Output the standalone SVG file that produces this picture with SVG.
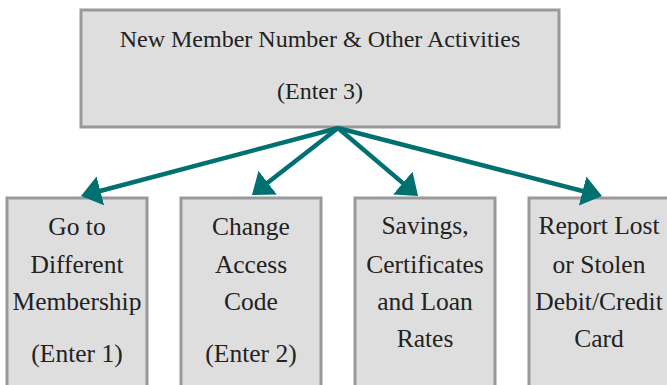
<svg xmlns="http://www.w3.org/2000/svg" width="667" height="385" viewBox="0 0 667 385">
<defs>
<style>
.box{fill:#dedede;stroke:#999;stroke-width:3}
.t{font-family:"Liberation Serif","DejaVu Serif",serif;fill:#222;text-anchor:middle}
.top{font-size:24px}
.sub{font-size:25.5px}
.conn{stroke:#007070;stroke-width:4.5;fill:none}
</style>
<marker id="ah" viewBox="0 0 20 30" refX="16" refY="15" markerWidth="20" markerHeight="30" markerUnits="userSpaceOnUse" orient="auto">
<path d="M0,0 L20,15 L0,30 z" fill="#007070"/>
</marker>
</defs>
<rect width="667" height="385" fill="#fff"/>
<g id="top-node">
<rect class="box" x="81" y="10" width="478" height="117"/>
<text class="t top" x="320" y="47">New Member Number &amp; Other Activities</text>
<text class="t top" x="320" y="99">(Enter 3)</text>
</g>
<g id="node1">
<rect class="box" x="7" y="198" width="140" height="200"/>
<text class="t sub" x="77" y="235">Go to</text>
<text class="t sub" x="77" y="273">Different</text>
<text class="t sub" x="77" y="310">Membership</text>
<text class="t sub" x="77" y="362">(Enter 1)</text>
</g>
<g id="node2">
<rect class="box" x="181" y="198" width="140" height="200"/>
<text class="t sub" x="251" y="235">Change</text>
<text class="t sub" x="251" y="273">Access</text>
<text class="t sub" x="251" y="310">Code</text>
<text class="t sub" x="251" y="362">(Enter 2)</text>
</g>
<g id="node3">
<rect class="box" x="355" y="198" width="140" height="200"/>
<text class="t sub" x="425" y="234">Savings,</text>
<text class="t sub" x="425" y="273">Certificates</text>
<text class="t sub" x="425" y="310">and Loan</text>
<text class="t sub" x="425" y="347">Rates</text>
</g>
<g id="node4">
<rect class="box" x="529" y="198" width="140" height="200"/>
<text class="t sub" x="599" y="234">Report Lost</text>
<text class="t sub" x="599" y="273">or Stolen</text>
<text class="t sub" x="599" y="310">Debit/Credit</text>
<text class="t sub" x="599" y="347">Card</text>
</g>
<g id="connectors">
<line class="conn" x1="338" y1="128" x2="84.9" y2="195" marker-end="url(#ah)"/>
<line class="conn" x1="338" y1="128" x2="255.1" y2="192.5" marker-end="url(#ah)"/>
<line class="conn" x1="338" y1="128" x2="415" y2="193.4" marker-end="url(#ah)"/>
<line class="conn" x1="338" y1="128" x2="598.1" y2="195" marker-end="url(#ah)"/>
</g>
</svg>
